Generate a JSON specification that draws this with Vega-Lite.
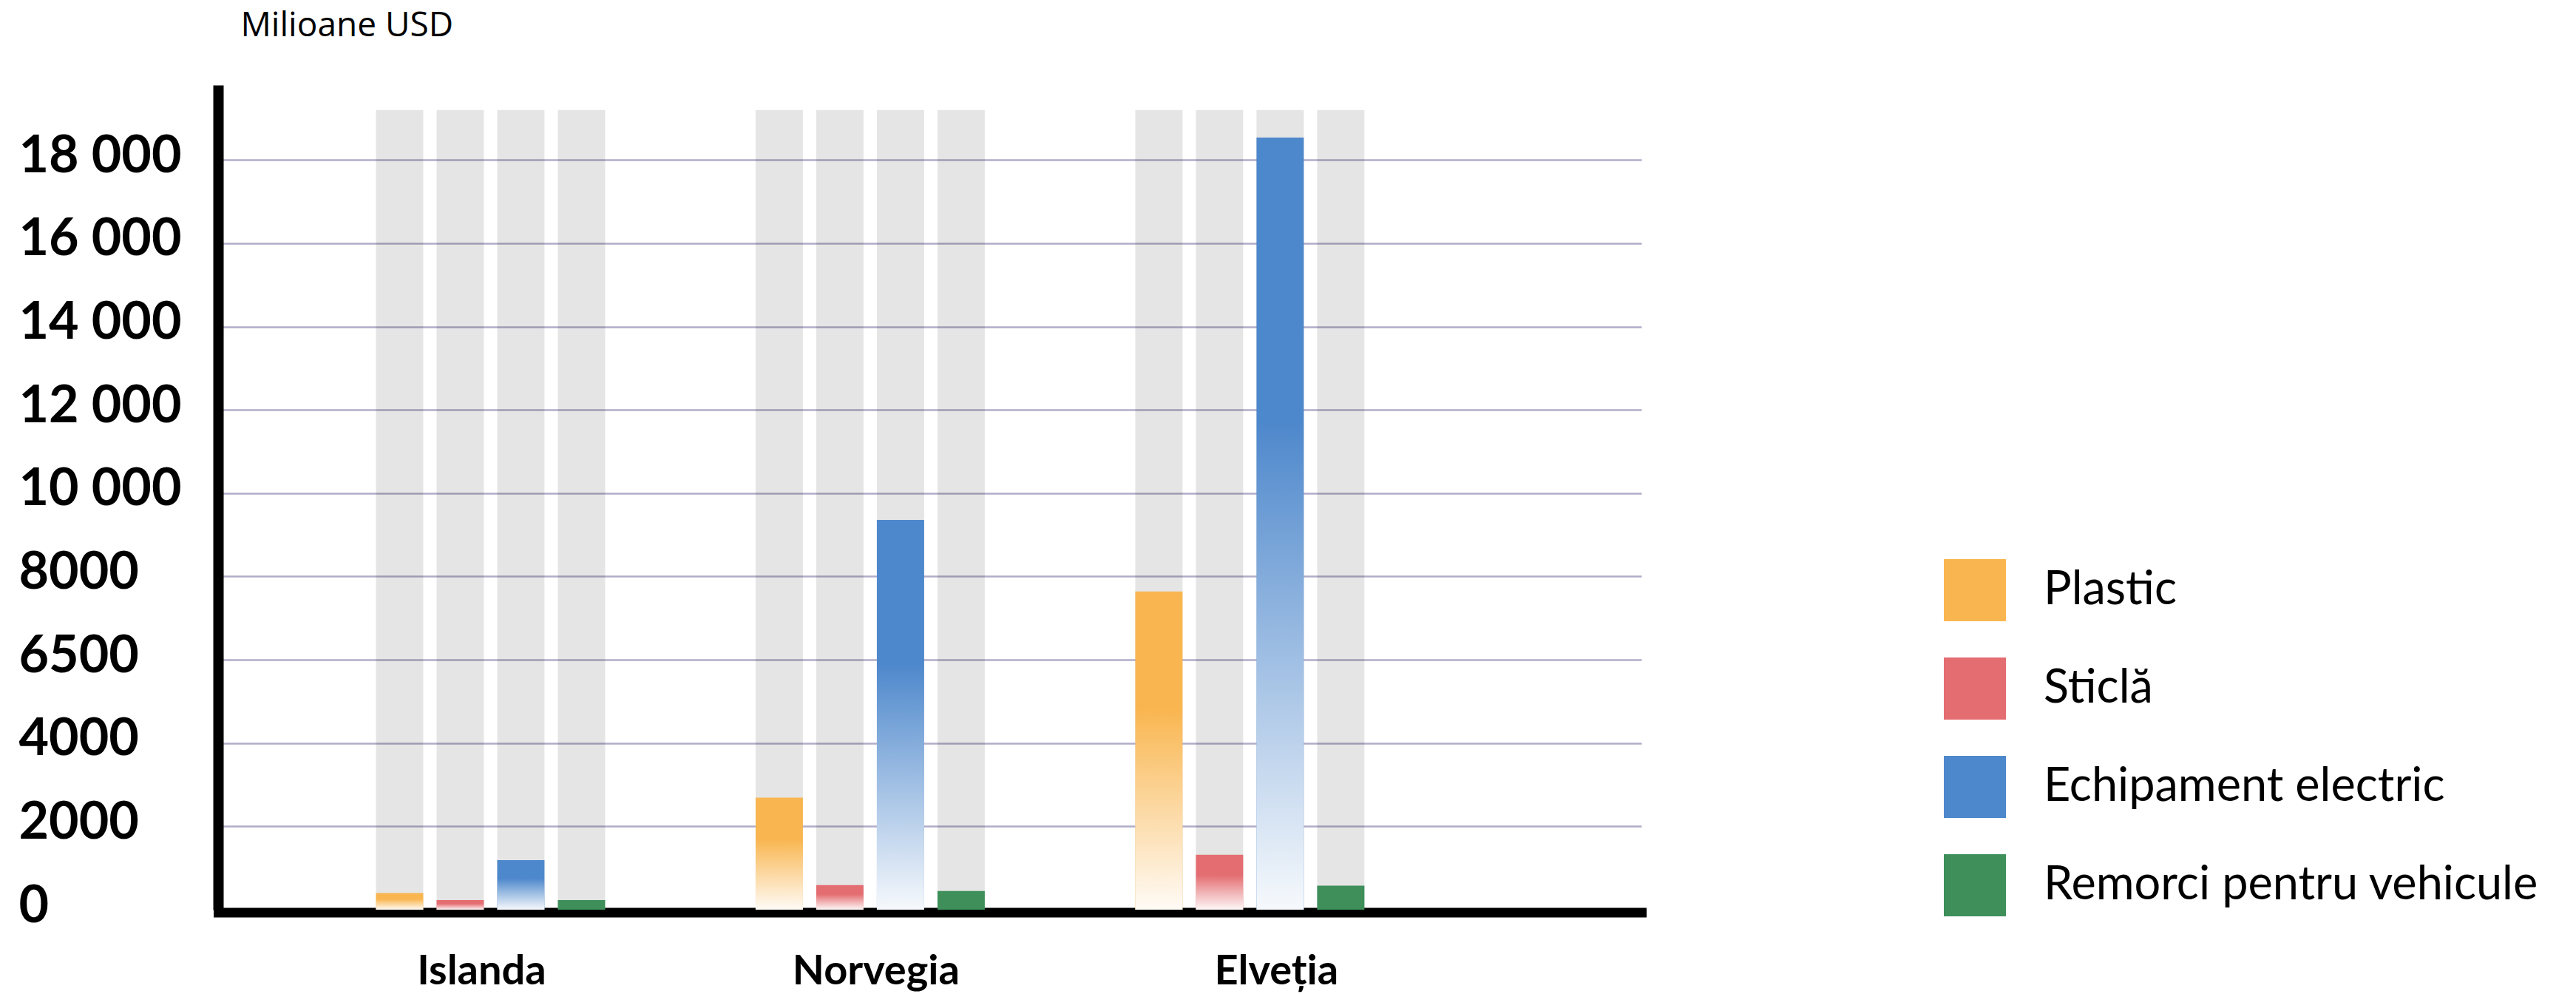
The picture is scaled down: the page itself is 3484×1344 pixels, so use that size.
{
  "$schema": "https://vega.github.io/schema/vega-lite/v6.json",
  "autosize": "none",
  "width": 1925,
  "height": 1115,
  "padding": {"left": 295, "top": 115, "right": 1264, "bottom": 114},
  "background": "white",
  "config": {"view": {"stroke": null}},
  "data": {"values": [
    {"country": "Islanda", "cat": "Plastic", "value": 400},
    {"country": "Islanda", "cat": "Sticlă", "value": 230},
    {"country": "Islanda", "cat": "Echipament electric", "value": 1190},
    {"country": "Islanda", "cat": "Remorci pentru vehicule", "value": 230},
    {"country": "Norvegia", "cat": "Plastic", "value": 2690},
    {"country": "Norvegia", "cat": "Sticlă", "value": 590},
    {"country": "Norvegia", "cat": "Echipament electric", "value": 9360},
    {"country": "Norvegia", "cat": "Remorci pentru vehicule", "value": 450},
    {"country": "Elveția", "cat": "Plastic", "value": 7640},
    {"country": "Elveția", "cat": "Sticlă", "value": 1320},
    {"country": "Elveția", "cat": "Echipament electric", "value": 18540},
    {"country": "Elveția", "cat": "Remorci pentru vehicule", "value": 575}
  ]},
  "encoding": {
    "x": {
      "field": "country", "type": "nominal",
      "scale": {"domain": ["Islanda", "Norvegia", "Elveția"], "paddingInner": 0.077, "paddingOuter": 0.413, "align": 0.31},
      "axis": {
        "title": null, "labelAngle": 0, "ticks": false, "tickSize": 0, "grid": false,
        "domainColor": "#000000", "domainWidth": 13, "domainCap": "square", "offset": 3.5,
        "labelFont": "Lato", "labelFontWeight": "bold", "labelFontSize": 56, "labelColor": "#000000",
        "labelPadding": 53, "labelBaseline": "top", "labelLimit": 1000,
        "labelOffset": {"condition": [{"test": "datum.value === 'Islanda'", "value": -12}, {"test": "datum.value === 'Elveția'", "value": 36}], "value": 8}
      }
    },
    "xOffset": {
      "field": "cat", "type": "nominal",
      "scale": {"domain": ["Plastic", "Sticlă", "Echipament electric", "Remorci pentru vehicule"], "paddingInner": 0.22, "paddingOuter": 1}
    }
  },
  "layer": [
    {
      "mark": {"type": "bar", "fill": "#000000", "fillOpacity": 0.1},
      "encoding": {
        "y": {
          "datum": 19200, "type": "quantitative",
          "scale": {"domain": [0, 19800], "nice": false, "zero": true},
          "axis": {
            "values": [0, 2000, 4000, 6000, 8000, 10000, 12000, 14000, 16000, 18000],
            "labelExpr": "datum.value == 6000 ? '6500' : (datum.value >= 10000 ? format(datum.value / 1000, 'd') + ' 000' : format(datum.value, 'd'))",
            "ticks": false, "tickSize": 0,
            "domainColor": "#000000", "domainWidth": 14, "domainCap": "butt",
            "grid": true, "gridColor": "#b0adc8", "gridWidth": 2.5,
            "labelFont": "Lato", "labelFontWeight": "bold", "labelFontSize": 70, "labelColor": "#000000",
            "labelAlign": "left", "labelBaseline": "middle", "labelPadding": 270, "labelOffset": -5, "labelLimit": 1000,
            "title": "Milioane USD", "titleAngle": 0, "titleAlign": "left", "titleBaseline": "alphabetic",
            "titleX": 30, "titleY": -67, "titleFont": "Open Sans", "titleFontWeight": "normal",
            "titleFontSize": 46, "titleColor": "#000000"
          }
        }
      }
    },
    {
      "mark": {"type": "bar"},
      "encoding": {
        "y": {"field": "value", "type": "quantitative"},
        "color": {
          "field": "cat", "type": "nominal",
          "scale": {"domain": ["Plastic", "Sticlă", "Echipament electric", "Remorci pentru vehicule"], "range": ["#f9b650", "#e46d71", "#4e88cc", "#3e8f5a"]},
          "legend": {
            "title": null, "orient": "none", "legendX": 2334, "legendY": 641, "padding": 0,
            "symbolType": "square", "symbolSize": 7056, "symbolStrokeWidth": 0, "symbolOpacity": 1,
            "rowPadding": 49, "labelOffset": 51, "labelFont": "Lato", "labelFontSize": 63,
            "labelColor": "#000000", "labelLimit": 1000, "labelBaseline": "middle"
          }
        }
      }
    },
    {
      "transform": [{"filter": "datum.cat !== 'Remorci pentru vehicule'"}],
      "mark": {
        "type": "bar",
        "fill": {"gradient": "linear", "x1": 0, "y1": 0, "x2": 0, "y2": 1, "stops": [
          {"offset": 0, "color": "rgba(255,255,255,0)"},
          {"offset": 0.37, "color": "rgba(255,255,255,0)"},
          {"offset": 1, "color": "rgba(255,255,255,0.95)"}
        ]}
      },
      "encoding": {
        "y": {"field": "value", "type": "quantitative"}
      }
    }
  ]
}
